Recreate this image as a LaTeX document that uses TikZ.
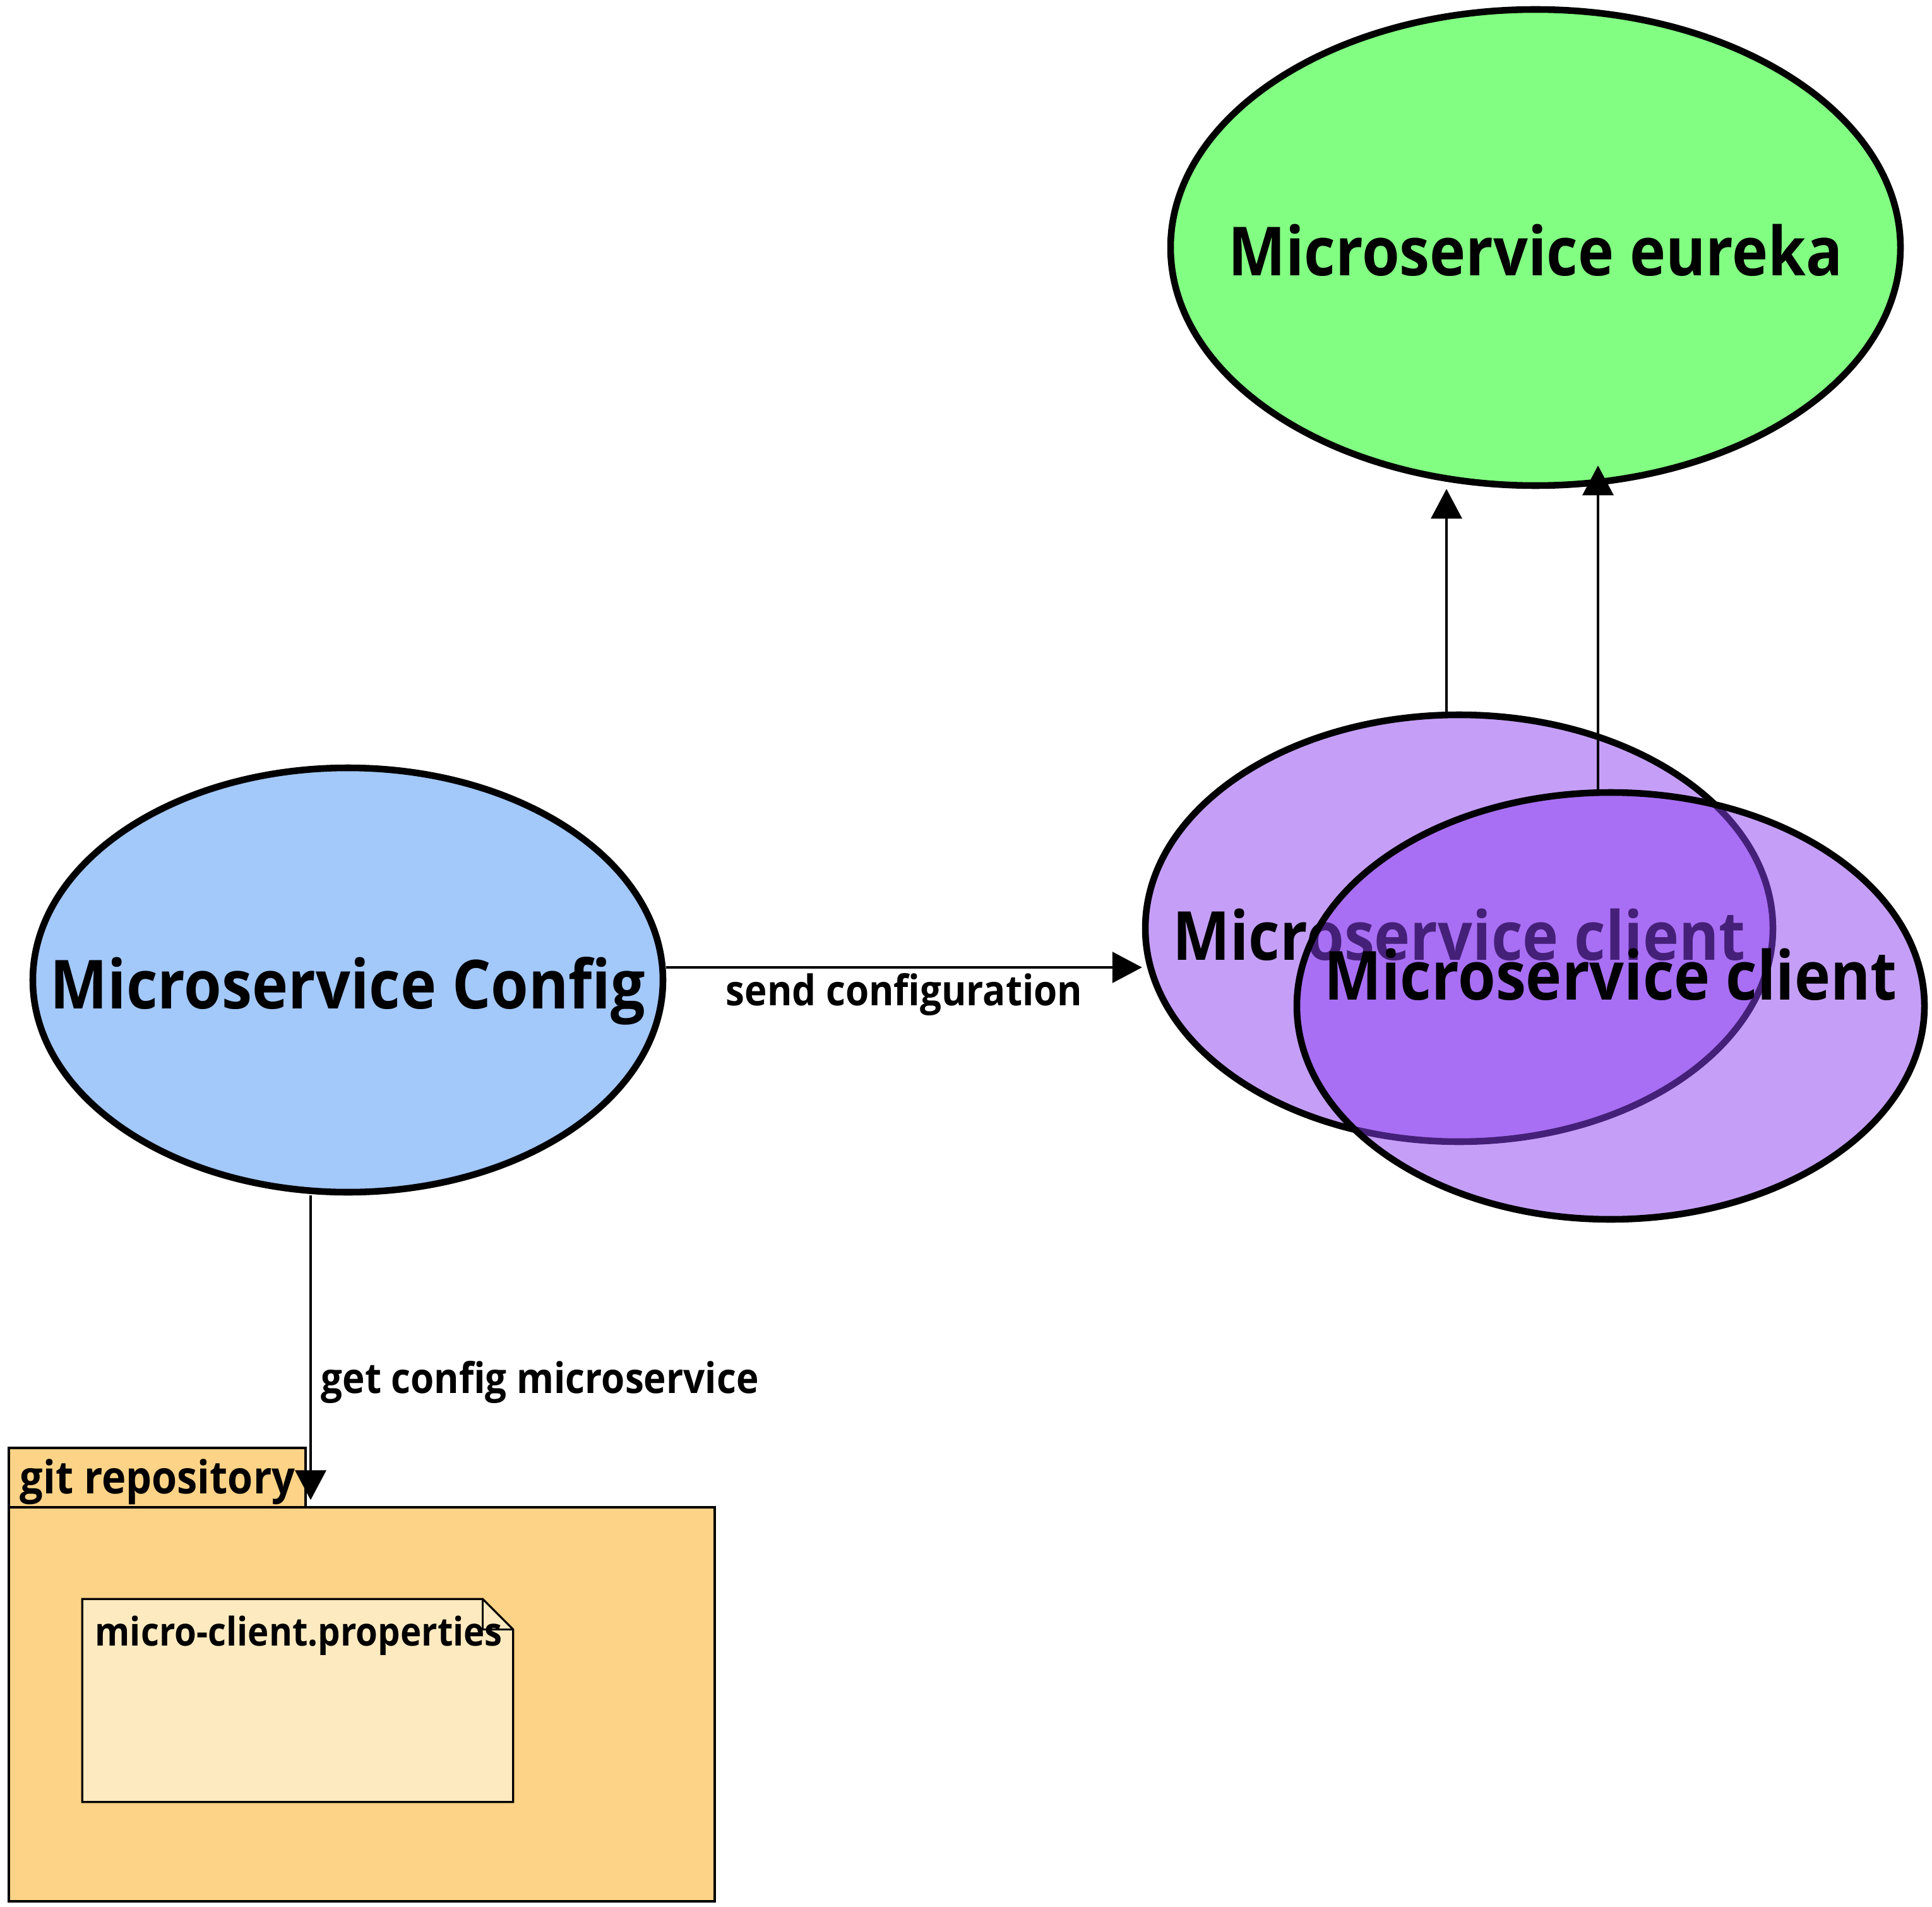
\documentclass[tikz,border=0pt]{standalone}
\usepackage{fontspec}
\setmainfont{Open Sans}[FakeStretch=0.9]
\usetikzlibrary{arrows.meta,shapes.geometric}
\definecolor{eurekagreen}{RGB}{130,255,130}
\definecolor{configblue}{RGB}{163,200,250}
\definecolor{clientpurple}{RGB}{139,64,240}
\definecolor{gitorange}{RGB}{253,211,135}
\definecolor{notecream}{RGB}{254,234,192}
\begin{document}
\begin{tikzpicture}[
		font=\bfseries,
		svc/.style={ellipse, draw, line width=3pt, inner sep=0pt},
		biglbl/.style={font=\fontsize{30.5}{36}\selectfont\bfseries, text opacity=1},
		client/.style={svc, fill=clientpurple, fill opacity=0.5, draw opacity=1,
			minimum width=9.94cm, minimum height=6.76cm},
		pkg/.style={draw, line width=0.9pt, fill=gitorange, inner sep=0pt},
		arr/.style={line width=0.9pt, -{Triangle[length=0.47cm,width=0.49cm]}},
		edgelbl/.style={font=\fontsize{19}{23}\selectfont\bfseries, inner sep=0pt}
	]
			
			\useasboundingbox (0,0) rectangle (30.6,-30.2);

			\node[svc, fill=eurekagreen, minimum width=11.56cm, minimum height=7.54cm, label={[biglbl, yshift=-0.04cm]center:Microservice eureka}] (eureka) at (24.32,-3.92) {};
			\node[svc, fill=configblue, minimum width=9.98cm, minimum height=6.72cm, label={[biglbl, yshift=-0.17cm]center:Microservice Config}] (config) at (5.51,-15.52) {};
			\node[client, label={[biglbl, yshift=-0.1cm]center:Microservice client}] (client1) at (23.11,-14.70) {};
			\node[client, label={[biglbl, yshift=0.5cm]center:Microservice client}] (client2) at (25.51,-15.93) {};

			\node[pkg, minimum width=4.70cm, minimum height=0.94cm] (gittab) at (2.49,-23.40) {};
			\node[pkg, minimum width=11.18cm, minimum height=6.24cm] (gitbody) at (5.73,-26.99) {};
			\node[edgelbl, font=\fontsize{20.5}{24}\selectfont\bfseries, anchor=west] (gitlbl) at (0.31,-23.47) {git repository};

			\node[minimum width=6.81cm, minimum height=3.20cm, inner sep=0pt] (props) at (4.715,-26.93) {};
			\filldraw[fill=notecream, line width=0.9pt] (props.south west) -- (props.north west) -- ([xshift=-0.48cm]props.north east) -- ([yshift=-0.48cm]props.north east) -- (props.south east) -- cycle;
			\draw[line width=0.9pt] ([xshift=-0.48cm]props.north east) -- ([xshift=-0.48cm,yshift=-0.48cm]props.north east) -- ([yshift=-0.48cm]props.north east);
			\node[edgelbl, font=\fontsize{17.8}{22}\selectfont\bfseries, anchor=west] (propslbl) at (1.50,-25.90) {micro-client.properties};

			\draw[arr] ([yshift=0.2cm]config.east) -- node[edgelbl, below=0.08cm] {send configuration} ([yshift=0.2cm]config.east -| client1.west);
			\draw[arr, shorten >=0.1cm] ([xshift=-0.59cm]config.south) -- node[edgelbl, pos=0.6, right=0.15cm] {get config microservice} ([xshift=-0.59cm]config.south |- gitbody.north);
			\draw[arr] ([xshift=-0.2cm]client1.north) -- ([xshift=-0.2cm]client1.north |- eureka.south);
			\draw[arr] ([xshift=-0.2cm]client2.north) -- ([xshift=-0.2cm,yshift=0.37cm]client2.north |- eureka.south);

			
		\end{tikzpicture}
\end{document}
